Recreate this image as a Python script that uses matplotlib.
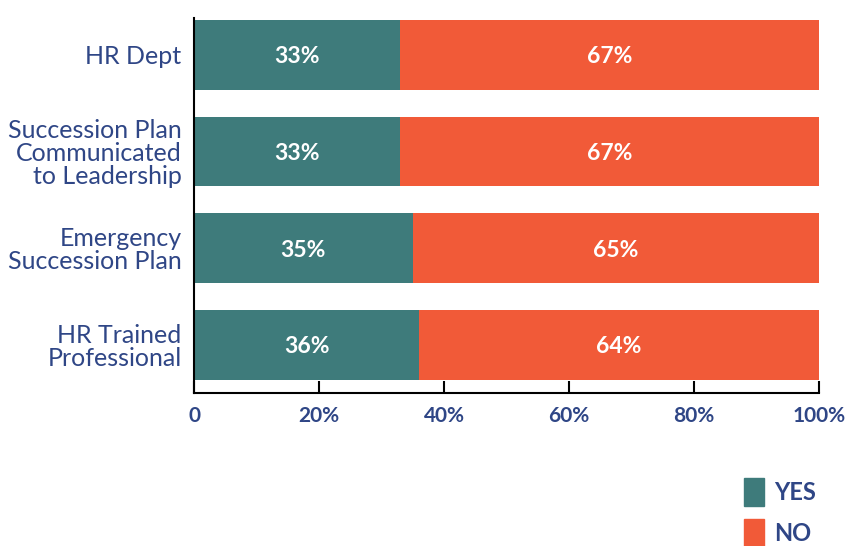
import matplotlib.pyplot as plt
from matplotlib.patches import Patch

categories = ["HR Dept", "Succession Plan\nCommunicated\nto Leadership",
              "Emergency\nSuccession Plan", "HR Trained\nProfessional"]
yes = [33, 33, 35, 36]
no = [67, 67, 65, 64]
ticks = [0, 20, 40, 60, 80, 100]
tick_labels = ["0", "20%", "40%", "60%", "80%", "100%"]

teal = "#3E7B7B"
orange = "#F15A38"
navy = "#2F4686"

plt.rcParams['font.family'] = ['Lato', 'DejaVu Sans']

fig = plt.figure(figsize=(8.51, 5.46), dpi=100)
ax = fig.add_axes([0.228, 0.280, 0.7345, 0.687])

pos = list(range(len(categories)))
ax.barh(pos, yes, height=0.72, color=teal)
ax.barh(pos, no, left=yes, height=0.72, color=orange)

for i in pos:
    ax.text(yes[i] / 2, i + 0.02, f"{yes[i]}%", color="white", fontsize=16.5,
            fontweight="bold", ha="center", va="center")
    ax.text(yes[i] + no[i] / 2, i + 0.02, f"{no[i]}%", color="white", fontsize=16.5,
            fontweight="bold", ha="center", va="center")

ax.set_xlim(0, 100)
ax.set_ylim(3.5, -0.38)
ax.set_yticks(pos)
ax.set_yticklabels(categories, color=navy, fontsize=18, linespacing=1.0)
ax.tick_params(axis="y", length=0, pad=9)
ax.set_xticks(ticks)
ax.set_xticklabels(tick_labels, color=navy, fontsize=15, fontweight="bold")
ax.tick_params(axis="x", direction="in", length=9, width=1.5, pad=9)

for s in ["top", "right"]:
    ax.spines[s].set_visible(False)
ax.spines["left"].set_linewidth(1.5)
ax.spines["bottom"].set_linewidth(1.5)

handles = [Patch(color=teal, label="YES"), Patch(color=orange, label="NO")]
leg = fig.legend(handles=handles, loc="lower left", bbox_to_anchor=(0.849, -0.041),
                 frameon=False, handlelength=0.85, handleheight=1.45,
                 handletextpad=0.45, labelspacing=0.55,
                 prop={"size": 17, "weight": "bold"})
for t in leg.get_texts():
    t.set_color(navy)

plt.savefig("out.png", dpi=100)
